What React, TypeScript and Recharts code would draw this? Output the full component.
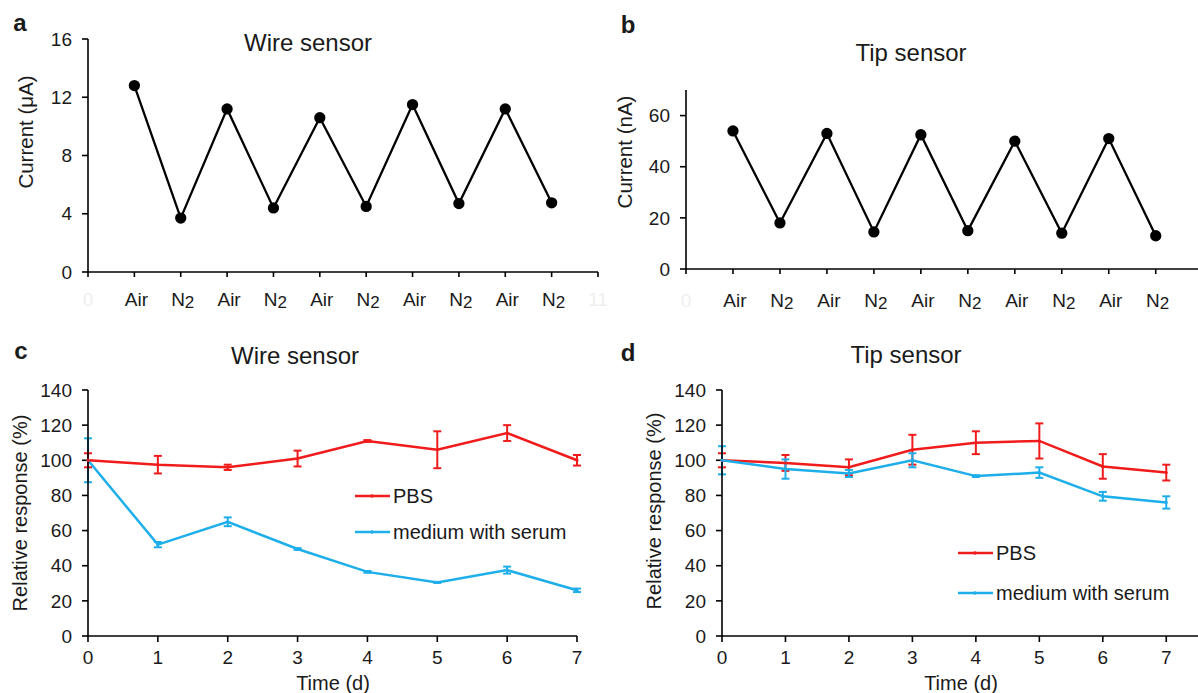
import type { ReactNode } from "react";
import { ErrorBar, Legend, Line, LineChart, XAxis, YAxis } from "recharts";

const FONT = '"Liberation Sans", Arial, sans-serif';
const INK = "#1a1a1a";
const RED = "#f01c1c";
const BLUE = "#1eaeea";

// panels a/b: gas switching
const gasSteps = ["Air", "N2", "Air", "N2", "Air", "N2", "Air", "N2", "Air", "N2"];
const wireCurrent = [12.8, 3.7, 11.2, 4.4, 10.6, 4.5, 11.5, 4.7, 11.2, 4.75];
const tipCurrent = [54, 18, 53, 14.5, 52.5, 15, 50, 14, 51, 13];
const stepTicks = [0, 1, 2, 3, 4, 5, 6, 7, 8, 9, 10, 11];
const wireCurrentTicks = [0, 4, 8, 12, 16];
const tipCurrentTicks = [0, 20, 40, 60];

// panels c/d: stability over days
const days = [0, 1, 2, 3, 4, 5, 6, 7];
const wirePbs = [100, 97.5, 96, 101, 111, 106, 115.5, 100];
const wirePbsErr = [4, 5, 1.5, 4.5, 0.5, 10.5, 4.5, 3];
const wireSerum = [100, 52, 65, 49.5, 36.5, 30.5, 37.5, 26];
const wireSerumErr = [12.5, 1.5, 2.5, 0.5, 0.5, 0.3, 2, 1];
const tipPbs = [100, 98.5, 96, 106, 110, 111, 96.5, 93];
const tipPbsErr = [4, 4.5, 4.5, 8.5, 6.5, 10, 7, 4.5];
const tipSerum = [100, 95, 92.5, 100, 91, 93, 79.5, 76];
const tipSerumErr = [8, 5.5, 2, 4, 0.5, 3, 2.5, 3.5];
const responseTicks = [0, 20, 40, 60, 80, 100, 120, 140];

const seriesNames = ["PBS", "medium with serum"];

const wireSteps = wireCurrent.map((v, i) => ({ step: i + 1, value: v }));
const tipSteps = tipCurrent.map((v, i) => ({ step: i + 1, value: v }));
const wireDays = days.map((d, i) => ({
  day: d,
  pbs: wirePbs[i],
  pbsErr: wirePbsErr[i],
  serum: wireSerum[i],
  serumErr: wireSerumErr[i],
}));
const tipDays = days.map((d, i) => ({
  day: d,
  pbs: tipPbs[i],
  pbsErr: tipPbsErr[i],
  serum: tipSerum[i],
  serumErr: tipSerumErr[i],
}));

interface TickProps {
  x?: number;
  y?: number;
  payload?: { value?: string | number };
  baseline?: number;
}

function GasTick({ x = 0, y = 0, payload, baseline = 26 }: TickProps) {
  const idx = Number(payload?.value);
  const step = gasSteps[idx - 1];
  if (!step) {
    // the bare step numbers only show (very faintly) at the ends
    return (
      <text x={x} y={y + baseline} textAnchor="middle" fill="#efefef" fontFamily={FONT} fontSize={19}>
        {idx}
      </text>
    );
  }
  return (
    <text x={x + 2} y={y + baseline} textAnchor="middle" fill={INK} fontFamily={FONT} fontSize={19}>
      {step === "N2" ? (
        <>
          N<tspan fontSize={17} dy={2}>2</tspan>
        </>
      ) : (
        step
      )}
    </text>
  );
}

function SeriesKey({ gap }: { gap: number }) {
  const colors = [RED, BLUE];
  return (
    <div style={{ fontFamily: FONT, fontSize: 20, color: INK }}>
      {seriesNames.map((name, i) => (
        <div key={name} style={{ display: "flex", alignItems: "center", height: gap }}>
          <svg width={36} height={10} style={{ marginRight: 2 }}>
            <line x1={0} y1={5} x2={35} y2={5} stroke={colors[i]} strokeWidth={2.5} />
            <circle cx={17} cy={5} r={1.8} fill={colors[i]} />
          </svg>
          <span>{name}</span>
        </div>
      ))}
    </div>
  );
}

function Caption({
  x,
  y,
  size = 19,
  bold = false,
  vertical = false,
  children,
}: {
  x: number;
  y: number;
  size?: number;
  bold?: boolean;
  vertical?: boolean;
  children: ReactNode;
}) {
  return (
    <div
      style={{
        position: "absolute",
        left: x,
        top: y,
        transform: `translate(-50%, -50%)${vertical ? " rotate(-90deg)" : ""}`,
        fontSize: size,
        fontWeight: bold ? 700 : 400,
        lineHeight: 1,
        whiteSpace: "nowrap",
        color: INK,
      }}
    >
      {children}
    </div>
  );
}

const axisLine = { stroke: "#000", strokeWidth: 1.6 };
const tickLine = { stroke: "#000", strokeWidth: 1.6 };
const tickText = { fill: INK, fontSize: 19, fontFamily: FONT };

export default function App() {
  return (
    <div
      style={{
        position: "fixed",
        left: 0,
        top: 0,
        width: 1198,
        height: 693,
        overflow: "hidden",
        background: "#fff",
        fontFamily: FONT,
      }}
    >
      {/* a: wire sensor, gas switching */}
      <div style={{ position: "absolute", left: 0, top: 0 }}>
        <LineChart width={612} height={320} data={wireSteps} margin={{ top: 39, right: 14, bottom: 0, left: 0 }}>
          <XAxis
            dataKey="step"
            type="number"
            domain={[0, 11]}
            ticks={stepTicks}
            interval={0}
            height={48}
            axisLine={axisLine}
            tickLine={tickLine}
            tickSize={5}
            tick={<GasTick baseline={27} />}
          />
          <YAxis
            type="number"
            domain={[0, 16]}
            ticks={wireCurrentTicks}
            interval={0}
            width={88}
            axisLine={axisLine}
            tickLine={tickLine}
            tickSize={6}
            tickMargin={10}
            tick={tickText}
          />
          <Line
            dataKey="value"
            stroke="#000"
            strokeWidth={2.3}
            dot={{ r: 4.5, fill: "#000", stroke: "#000" }}
            isAnimationActive={false}
          />
        </LineChart>
      </div>

      {/* b: tip sensor, gas switching */}
      <div style={{ position: "absolute", left: 600, top: 0 }}>
        <LineChart width={598} height={320} data={tipSteps} margin={{ top: 90, right: 0, bottom: 0, left: 0 }}>
          <XAxis
            dataKey="step"
            type="number"
            domain={[0, 10.9]}
            allowDataOverflow
            ticks={stepTicks.slice(0, 11)}
            interval={0}
            height={51}
            axisLine={axisLine}
            tickLine={tickLine}
            tickSize={5}
            tick={<GasTick baseline={31} />}
          />
          <YAxis
            type="number"
            domain={[0, 70]}
            ticks={tipCurrentTicks}
            interval={0}
            width={86}
            axisLine={axisLine}
            tickLine={tickLine}
            tickSize={6}
            tickMargin={10}
            tick={tickText}
          />
          <Line
            dataKey="value"
            stroke="#000"
            strokeWidth={2.3}
            dot={{ r: 4.5, fill: "#000", stroke: "#000" }}
            isAnimationActive={false}
          />
        </LineChart>
      </div>

      {/* c: wire sensor, stability */}
      <div style={{ position: "absolute", left: 0, top: 320 }}>
        <LineChart width={600} height={373} data={wireDays} margin={{ top: 70, right: 23, bottom: 0, left: 0 }}>
          <XAxis
            dataKey="day"
            type="number"
            domain={[0, 7]}
            ticks={days}
            interval={0}
            height={57}
            axisLine={axisLine}
            tickLine={tickLine}
            tickSize={6}
            tickMargin={9}
            tick={tickText}
          />
          <YAxis
            type="number"
            domain={[0, 140]}
            ticks={responseTicks}
            interval={0}
            width={88}
            axisLine={axisLine}
            tickLine={tickLine}
            tickSize={6}
            tickMargin={10}
            tick={tickText}
          />
          <Legend
            layout="vertical"
            align="center"
            verticalAlign="middle"
            wrapperStyle={{ left: 355, top: 158, width: "auto" }}
            content={() => <SeriesKey gap={36} />}
          />
          <Line
            name={seriesNames[1]}
            dataKey="serum"
            stroke={BLUE}
            strokeWidth={2.5}
            dot={{ r: 1.5, fill: BLUE, stroke: "none" }}
            isAnimationActive={false}
          >
            <ErrorBar dataKey="serumErr" direction="y" width={4} stroke={BLUE} strokeWidth={2} />
          </Line>
          <Line
            name={seriesNames[0]}
            dataKey="pbs"
            stroke={RED}
            strokeWidth={2.5}
            dot={{ r: 1.5, fill: RED, stroke: "none" }}
            isAnimationActive={false}
          >
            <ErrorBar dataKey="pbsErr" direction="y" width={4} stroke={RED} strokeWidth={2} />
          </Line>
        </LineChart>
      </div>

      {/* d: tip sensor, stability */}
      <div style={{ position: "absolute", left: 600, top: 320 }}>
        <LineChart width={598} height={373} data={tipDays} margin={{ top: 70, right: 0, bottom: 0, left: 0 }}>
          <XAxis
            dataKey="day"
            type="number"
            domain={[0, 7.5]}
            ticks={days}
            interval={0}
            height={57}
            axisLine={axisLine}
            tickLine={tickLine}
            tickSize={6}
            tickMargin={9}
            tick={tickText}
          />
          <YAxis
            type="number"
            domain={[0, 140]}
            ticks={responseTicks}
            interval={0}
            width={122}
            axisLine={axisLine}
            tickLine={tickLine}
            tickSize={6}
            tickMargin={10}
            tick={tickText}
          />
          <Legend
            layout="vertical"
            align="center"
            verticalAlign="middle"
            wrapperStyle={{ left: 358, top: 213, width: "auto" }}
            content={() => <SeriesKey gap={40} />}
          />
          <Line
            name={seriesNames[0]}
            dataKey="pbs"
            stroke={RED}
            strokeWidth={2.5}
            dot={{ r: 1.5, fill: RED, stroke: "none" }}
            isAnimationActive={false}
          >
            <ErrorBar dataKey="pbsErr" direction="y" width={4} stroke={RED} strokeWidth={2} />
          </Line>
          <Line
            name={seriesNames[1]}
            dataKey="serum"
            stroke={BLUE}
            strokeWidth={2.5}
            dot={{ r: 1.5, fill: BLUE, stroke: "none" }}
            isAnimationActive={false}
          >
            <ErrorBar dataKey="serumErr" direction="y" width={4} stroke={BLUE} strokeWidth={2} />
          </Line>
        </LineChart>
      </div>

      {/* panel letters, titles, axis titles */}
      <Caption x={20} y={23} size={24} bold>a</Caption>
      <Caption x={628} y={25} size={24} bold>b</Caption>
      <Caption x={21} y={351} size={24} bold>c</Caption>
      <Caption x={628} y={353} size={24} bold>d</Caption>

      <Caption x={308} y={43} size={24}>Wire sensor</Caption>
      <Caption x={911} y={53} size={24}>Tip sensor</Caption>
      <Caption x={295} y={356} size={24}>Wire sensor</Caption>
      <Caption x={906} y={355} size={24}>Tip sensor</Caption>

      <Caption x={26} y={132} size={20.5} vertical>Current (μA)</Caption>
      <Caption x={625} y={152} size={20.5} vertical>Current (nA)</Caption>
      <Caption x={20} y={513} size={20} vertical>Relative response (%)</Caption>
      <Caption x={654} y={511} size={20} vertical>Relative response (%)</Caption>
      <Caption x={333} y={683} size={20}>Time (d)</Caption>
      <Caption x={961} y={683} size={20}>Time (d)</Caption>
    </div>
  );
}
